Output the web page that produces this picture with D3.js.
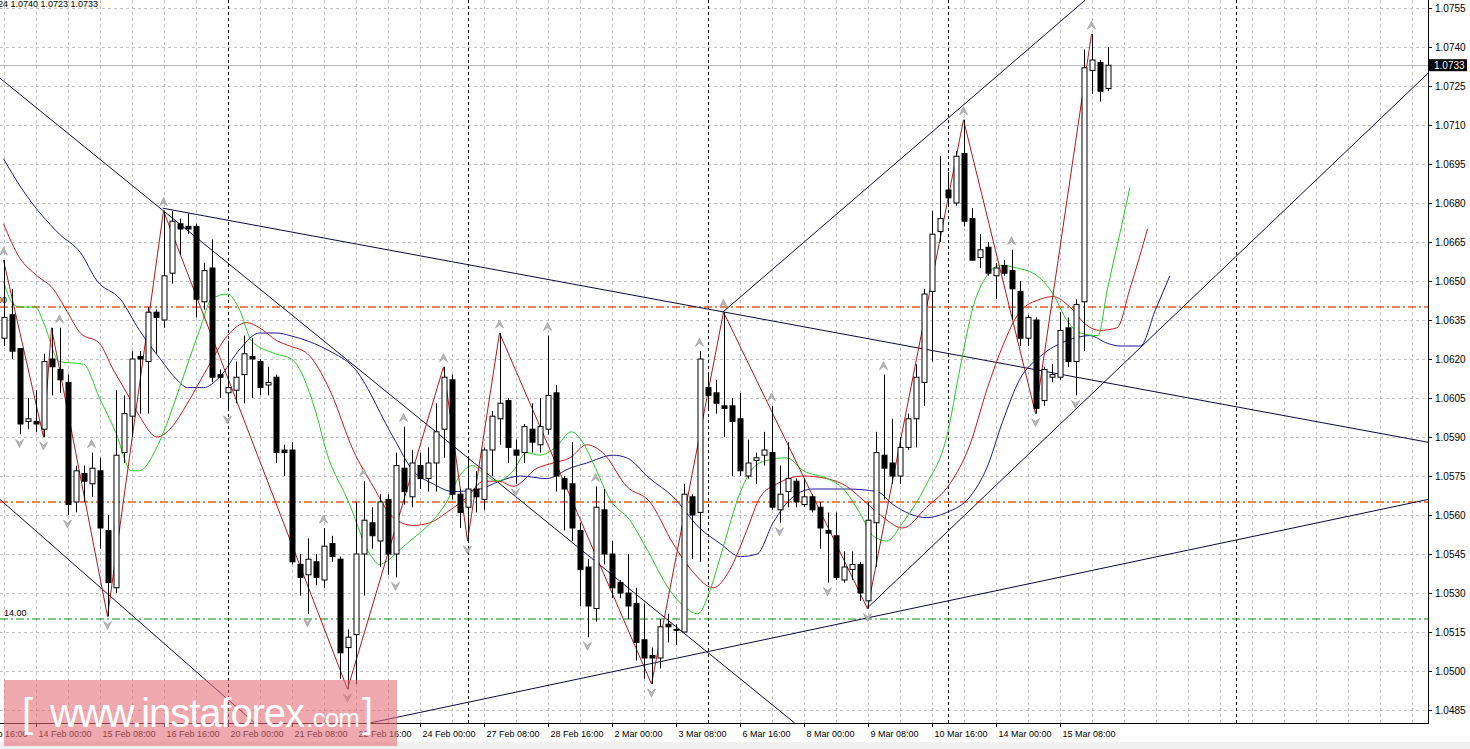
<!DOCTYPE html>
<html><head><meta charset="utf-8">
<script src="https://cdn.jsdelivr.net/npm/d3@7/dist/d3.min.js"></script>
<style>body{margin:0;background:#fff;overflow:hidden}svg{display:block}text{font-family:"Liberation Sans",Arial,sans-serif}</style>
</head><body><svg id="c" width="1470" height="749"></svg>
<script>
// ---- data (EURUSD H4) ----
const open = [1.0628,1.0637,1.0624,1.0596,1.0596,1.0593,1.0620,1.0616,1.0611,1.0565,1.0576,1.0572,1.0577,1.0554,1.0532,1.0584,1.0598,1.0621,1.0619,1.0638,1.0635,1.0653,1.0672,1.0671,1.0671,1.0642,1.0655,1.0614,1.0607,1.0608,1.0614,1.0621,1.0619,1.0610,1.0613,1.0585,1.0585,1.0541,1.0537,1.0542,1.0535,1.0549,1.0543,1.0509,1.0514,1.0545,1.0557,1.0550,1.0566,1.0545,1.0578,1.0567,1.0579,1.0574,1.0580,1.0593,1.0612,1.0568,1.0563,1.0570,1.0566,1.0585,1.0597,1.0604,1.0585,1.0584,1.0593,1.0587,1.0593,1.0607,1.0574,1.0572,1.0554,1.0540,1.0524,1.0562,1.0545,1.0534,1.0530,1.0526,1.0512,1.0506,1.0505,1.0518,1.0516,1.0515,1.0567,1.0561,1.0609,1.0607,1.0602,1.0602,1.0597,1.0575,1.0581,1.0583,1.0584,1.0562,1.0569,1.0573,1.0564,1.0567,1.0563,1.0554,1.0552,1.0535,1.0539,1.0541,1.0527,1.0557,1.0583,1.0580,1.0575,1.0586,1.0597,1.0611,1.0646,1.0669,1.0685,1.0680,1.0699,1.0674,1.0659,1.0663,1.0652,1.0656,1.0654,1.0646,1.0628,1.0635,1.0604,1.0613,1.0613,1.0632,1.0619,1.0642,1.0731,1.0734,1.0724];
const high = [1.0658,1.0647,1.0624,1.0605,1.0608,1.0622,1.0632,1.0632,1.0614,1.0579,1.0579,1.0584,1.0582,1.0560,1.0608,1.0606,1.0623,1.0623,1.0640,1.0639,1.0677,1.0677,1.0674,1.0676,1.0672,1.0657,1.0666,1.0616,1.0627,1.0619,1.0629,1.0628,1.0620,1.0617,1.0614,1.0587,1.0588,1.0545,1.0551,1.0545,1.0555,1.0552,1.0544,1.0516,1.0565,1.0573,1.0563,1.0568,1.0568,1.0584,1.0594,1.0585,1.0584,1.0586,1.0603,1.0617,1.0614,1.0570,1.0582,1.0577,1.0586,1.0600,1.0630,1.0605,1.0589,1.0595,1.0603,1.0605,1.0629,1.0610,1.0575,1.0588,1.0557,1.0543,1.0571,1.0570,1.0550,1.0535,1.0545,1.0532,1.0526,1.0509,1.0520,1.0522,1.0518,1.0572,1.0568,1.0623,1.0614,1.0612,1.0638,1.0605,1.0607,1.0589,1.0584,1.0592,1.0602,1.0579,1.0588,1.0574,1.0574,1.0568,1.0565,1.0561,1.0561,1.0546,1.0546,1.0542,1.0565,1.0592,1.0614,1.0597,1.0590,1.0599,1.0618,1.0647,1.0677,1.0698,1.0692,1.0700,1.0712,1.0678,1.0668,1.0665,1.0657,1.0658,1.0662,1.0650,1.0637,1.0636,1.0617,1.0618,1.0638,1.0636,1.0643,1.0739,1.0745,1.0735,1.0740];
const low = [1.0625,1.0620,1.0591,1.0593,1.0592,1.0590,1.0606,1.0607,1.0560,1.0561,1.0565,1.0567,1.0547,1.0521,1.0530,1.0580,1.0590,1.0599,1.0599,1.0622,1.0632,1.0649,1.0660,1.0668,1.0636,1.0639,1.0611,1.0605,1.0600,1.0603,1.0603,1.0605,1.0606,1.0606,1.0580,1.0575,1.0541,1.0529,1.0522,1.0533,1.0532,1.0542,1.0497,1.0493,1.0495,1.0529,1.0547,1.0540,1.0537,1.0536,1.0564,1.0563,1.0570,1.0569,1.0569,1.0582,1.0566,1.0555,1.0550,1.0561,1.0562,1.0575,1.0587,1.0580,1.0572,1.0580,1.0584,1.0584,1.0591,1.0569,1.0554,1.0550,1.0525,1.0513,1.0519,1.0541,1.0528,1.0528,1.0520,1.0504,1.0497,1.0495,1.0501,1.0511,1.0510,1.0515,1.0543,1.0542,1.0600,1.0599,1.0590,1.0575,1.0575,1.0574,1.0572,1.0579,1.0562,1.0557,1.0563,1.0563,1.0563,1.0561,1.0547,1.0534,1.0535,1.0534,1.0535,1.0527,1.0524,1.0540,1.0566,1.0572,1.0572,1.0585,1.0586,1.0602,1.0619,1.0665,1.0679,1.0679,1.0671,1.0658,1.0655,1.0652,1.0643,1.0652,1.0635,1.0625,1.0625,1.0599,1.0602,1.0611,1.0612,1.0617,1.0606,1.0623,1.0722,1.0719,1.0723];
const close = [1.0636,1.0623,1.0595,1.0597,1.0595,1.0619,1.0617,1.0612,1.0564,1.0577,1.0573,1.0578,1.0555,1.0534,1.0583,1.0599,1.0620,1.0620,1.0638,1.0636,1.0652,1.0673,1.0670,1.0670,1.0643,1.0654,1.0613,1.0613,1.0609,1.0613,1.0622,1.0620,1.0609,1.0611,1.0584,1.0584,1.0542,1.0536,1.0543,1.0536,1.0548,1.0544,1.0507,1.0513,1.0545,1.0558,1.0552,1.0565,1.0545,1.0579,1.0569,1.0580,1.0574,1.0580,1.0592,1.0613,1.0568,1.0561,1.0570,1.0567,1.0585,1.0598,1.0603,1.0586,1.0583,1.0594,1.0588,1.0594,1.0606,1.0575,1.0570,1.0555,1.0539,1.0525,1.0563,1.0545,1.0532,1.0530,1.0525,1.0511,1.0505,1.0505,1.0517,1.0517,1.0516,1.0568,1.0560,1.0620,1.0606,1.0603,1.0601,1.0596,1.0577,1.0580,1.0582,1.0585,1.0563,1.0568,1.0574,1.0565,1.0567,1.0562,1.0555,1.0553,1.0536,1.0540,1.0541,1.0530,1.0558,1.0584,1.0578,1.0575,1.0586,1.0597,1.0613,1.0645,1.0668,1.0674,1.0682,1.0698,1.0673,1.0658,1.0662,1.0653,1.0655,1.0653,1.0647,1.0628,1.0636,1.0601,1.0616,1.0614,1.0631,1.0619,1.0641,1.0732,1.0735,1.0723,1.0733];

const maGreen = [[0,1.0650],[1,1.0642],[2,1.0640],[4,1.0640],[5,1.0634],[7,1.0619],[10,1.0618],[12,1.0605],[14,1.0592],[16,1.0577],[17,1.0577],[19,1.0585],[20.4,1.0595],[22,1.0609],[24.5,1.0631],[26,1.0643],[28,1.0645],[29.5,1.0639],[31,1.0627],[34,1.0622],[36,1.0620],[39,1.0600],[40.4,1.0584],[43,1.0566],[46,1.0544],[47,1.0541],[49,1.0545],[50.4,1.0549],[52,1.0553],[53.7,1.0558],[55.4,1.0565],[57,1.0575],[58.6,1.0579],[60,1.0576],[61.7,1.0573],[63.7,1.0577],[65.4,1.0584],[67,1.0583],[69,1.0586],[71,1.0592],[72.4,1.0588],[74,1.0578],[75.8,1.0566],[78.3,1.0558],[80.4,1.0547],[83.3,1.0531],[85,1.0525],[86.8,1.0522],[88.3,1.0531],[89.9,1.0547],[92,1.0568],[93.7,1.0578],[95.4,1.0581],[97.9,1.0582],[100,1.0577],[103,1.0574],[105,1.0570],[107,1.0561],[108.7,1.0552],[110.4,1.0550],[112.4,1.0557],[115.4,1.0572],[117.9,1.0590],[119.6,1.0617],[121.2,1.0640],[122.9,1.0652],[124.6,1.0656],[126.7,1.0655],[129.2,1.0652],[131.2,1.0645],[132.9,1.0635],[134.6,1.0630],[136.8,1.0629],[138,1.0647],[139.6,1.0669],[140.8,1.0686]];
const maRed = [[0,1.0672],[2,1.0659],[4.2,1.0652],[6.2,1.0647],[8,1.0638],[9.6,1.0630],[12,1.0626],[13.7,1.0616],[15.4,1.0607],[17,1.0598],[19.2,1.0590],[20.8,1.0593],[23,1.0603],[25.4,1.0616],[28,1.0629],[30.4,1.0634],[32,1.0632],[34.2,1.0627],[35.8,1.0625],[38,1.0622],[40.8,1.0608],[43.7,1.0585],[46.2,1.0571],[48.7,1.0559],[51.2,1.0556],[53.3,1.0557],[55.4,1.0561],[58,1.0567],[60,1.0573],[62,1.0573],[63.7,1.0571],[66.7,1.0578],[68.7,1.0580],[70.8,1.0582],[72.9,1.0587],[74.9,1.0584],[77.9,1.0571],[80.8,1.0565],[83.7,1.0549],[86.2,1.0538],[88.7,1.0532],[90.8,1.0539],[92.9,1.0554],[94.6,1.0567],[96.7,1.0572],[100,1.0575],[102.9,1.0574],[105.4,1.0571],[107,1.0567],[109.6,1.0560],[112.4,1.0555],[115.4,1.0563],[118.3,1.0572],[120.8,1.0587],[122.9,1.0608],[124.9,1.0625],[127,1.0638],[129.6,1.0643],[131.2,1.0644],[133.3,1.0640],[135.4,1.0633],[137,1.0631],[139.2,1.0632],[140.8,1.0647],[143,1.0670]];
const maBlue = [[0,1.0697],[2.4,1.0685],[7,1.0668],[9.6,1.0661],[11.7,1.0650],[14.6,1.0643],[17,1.0631],[19.6,1.0620],[21.7,1.0612],[23,1.0609],[25,1.0609],[27,1.0613],[29.6,1.0624],[32,1.0630],[34.2,1.0630],[35.8,1.0629],[40.8,1.0623],[43.7,1.0617],[48.7,1.0590],[51.2,1.0577],[53.7,1.0572],[56.2,1.0569],[59.6,1.0570],[62,1.0573],[64.6,1.0575],[67.9,1.0574],[70.8,1.0578],[72.9,1.0580],[76.2,1.0583],[77.9,1.0582],[80.8,1.0574],[83.7,1.0567],[87,1.0555],[89.6,1.0549],[92.1,1.0544],[94.2,1.0545],[96.2,1.0557],[98.7,1.0567],[101.2,1.0570],[105.4,1.0570],[109.2,1.0569],[111.2,1.0564],[115.4,1.0559],[117.9,1.0561],[120.8,1.0567],[122.9,1.0578],[124.9,1.0596],[127,1.0612],[129.6,1.0621],[132.9,1.0627],[135.8,1.0629],[138,1.0626],[139.6,1.0625],[142.1,1.0625],[144,1.0639],[145.8,1.0652]];
const zigzag = [[0,1.0658],[5,1.0590],[6,1.0632],[13,1.0521],[20,1.0677],[43,1.0493],[55,1.0617],[58,1.0550],[62,1.0630],[81,1.0495],[90,1.0638],[108,1.0524],[120,1.0712],[129,1.0599],[136,1.0745]];
const fractalUp = [0,7,11,20,40,45,50,55,62,68,74,87,90,96,110,120,126,136];
const fractalDown = [2,5,8,13,28,38,43,49,58,64,73,81,97,103,108,129,134];
const trendlines = [[[-0.44,1.0728],[98.9,1.0480]],[[19.9,1.0678],[183.3,1.0585]],[[-0.44,1.0566],[31.4,1.0480]],[[45.8,1.0480],[178.1,1.0566]],[[89.9,1.0638],[135.2,1.0758]],[[107.9,1.0524],[178.1,1.0730]]];
const levelsOrange = [1.0640,1.0565];
const levelGreen = 1.0520;
const lastPrice = 1.0733;
const priceTicks = [1.0755,1.0740,1.0725,1.0710,1.0695,1.0680,1.0665,1.0650,1.0635,1.0620,1.0605,1.0590,1.0575,1.0560,1.0545,1.0530,1.0515,1.0500,1.0485];
const timeLabels = ["13 Feb 16:00","14 Feb 00:00","15 Feb 08:00","16 Feb 16:00","20 Feb 00:00","21 Feb 08:00","22 Feb 16:00","24 Feb 00:00","27 Feb 08:00","28 Feb 16:00","2 Mar 00:00","3 Mar 08:00","6 Mar 16:00","8 Mar 00:00","9 Mar 08:00","10 Mar 16:00","14 Mar 00:00","15 Mar 08:00"];
const timeLabelIdx = [-4,4,12,20,28,36,44,52,60,68,76,84,92,100,108,116,124,132];
const separators = [28,58,88,118,154];

// ---- drawing ----
const W=1428, H=723;
const svg=d3.select("#c");
const x=d3.scaleLinear().domain([0,1]).range([3.5,11.5]);
const y=d3.scaleLinear().domain([1.0485,1.0755]).range([710,8]);
svg.append("defs").append("clipPath").attr("id","clip").append("rect").attr("width",W).attr("height",H);
const g=svg.append("g").attr("clip-path","url(#clip)");
const px=v=>Math.round(v)+0.5;

// grid
const gridIdx=d3.range(0,180,4);
g.append("g").selectAll("line").data(gridIdx).join("line").attr("x1",d=>px(x(d))).attr("x2",d=>px(x(d))).attr("y1",0).attr("y2",H).attr("stroke","#c0c0c0").attr("stroke-dasharray","3,3");
g.append("g").selectAll("line").data(priceTicks).join("line").attr("x1",0).attr("x2",W).attr("y1",d=>px(y(d))).attr("y2",d=>px(y(d))).attr("stroke","#c0c0c0").attr("stroke-dasharray","3,3");
g.append("g").selectAll("line").data(separators).join("line").attr("x1",d=>px(x(d))).attr("x2",d=>px(x(d))).attr("y1",0).attr("y2",H).attr("stroke","#000").attr("stroke-dasharray","3,3");

// levels
g.append("line").attr("x1",0).attr("x2",W).attr("y1",px(y(lastPrice))).attr("y2",px(y(lastPrice))).attr("stroke","#b8b8b8");
g.append("g").selectAll("line").data(levelsOrange).join("line").attr("x1",0).attr("x2",W).attr("y1",d=>Math.round(y(d))).attr("y2",d=>Math.round(y(d))).attr("stroke","#e85a26").attr("stroke-width",1.3).attr("stroke-dasharray","8,3,2,3");
g.append("line").attr("x1",0).attr("x2",W).attr("y1",Math.round(y(levelGreen))).attr("y2",Math.round(y(levelGreen))).attr("stroke","#0a8a0a").attr("stroke-width",1.2).attr("stroke-dasharray","8,3,2,3");
g.append("text").attr("x",4).attr("y",y(levelGreen)-3).attr("font-size",9).text("14.00");
g.append("text").attr("x",-3).attr("y",y(levelsOrange[0])-4).attr("font-size",9).text("00");

// trendlines
g.append("g").selectAll("line").data(trendlines).join("line").attr("x1",d=>x(d[0][0])).attr("y1",d=>y(d[0][1])).attr("x2",d=>x(d[1][0])).attr("y2",d=>y(d[1][1])).attr("stroke","#0a0a40").attr("stroke-width",1);

// MAs
const ln=d3.line().x(d=>x(d[0])).y(d=>y(d[1])).curve(d3.curveMonotoneX);
g.append("path").attr("d",ln(maBlue)).attr("fill","none").attr("stroke","#1a1a9a");
g.append("path").attr("d",ln(maRed)).attr("fill","none").attr("stroke","#c81818");
g.append("path").attr("d",ln(maGreen)).attr("fill","none").attr("stroke","#22cc22");

// zigzag
g.append("path").attr("d",d3.line().x(d=>x(d[0])).y(d=>y(d[1]))(zigzag)).attr("fill","none").attr("stroke","#b01818");

// candles
const idx=d3.range(open.length);
g.append("g").selectAll("line").data(idx).join("line").attr("x1",i=>px(x(i))).attr("x2",i=>px(x(i))).attr("y1",i=>y(high[i])).attr("y2",i=>y(low[i])).attr("stroke","#000");
g.append("g").selectAll("rect").data(idx).join("rect")
 .attr("x",i=>Math.round(x(i))-2).attr("width",5)
 .attr("y",i=>y(Math.max(open[i],close[i]))).attr("height",i=>Math.max(1,Math.abs(y(open[i])-y(close[i]))))
 .attr("fill",i=>close[i]>=open[i]?"#fff":"#000").attr("stroke","#000").attr("stroke-width",1);

// fractal arrows
const arrowUp="M0,0 L-4,8 L0,5 L4,8 Z", arrowDn="M0,0 L-4,-8 L0,-5 L4,-8 Z";
g.append("g").selectAll("path").data(fractalUp).join("path").attr("d",arrowUp).attr("transform",i=>`translate(${x(i)},${y(high[i])-13})`).attr("fill","#b8b8b8").attr("stroke","#909090").attr("stroke-width",0.6);
g.append("g").selectAll("path").data(fractalDown).join("path").attr("d",arrowDn).attr("transform",i=>`translate(${x(i)},${y(low[i])+13})`).attr("fill","#b8b8b8").attr("stroke","#909090").attr("stroke-width",0.6);

// axes frame
svg.append("line").attr("x1",W+0.5).attr("x2",W+0.5).attr("y1",0).attr("y2",H).attr("stroke","#000");
svg.append("line").attr("x1",0).attr("x2",W+1).attr("y1",H+0.5).attr("y2",H+0.5).attr("stroke","#000");
const ya=svg.append("g").selectAll("g").data(priceTicks).join("g").attr("transform",d=>`translate(${W},${px(y(d))})`);
ya.append("line").attr("x2",4).attr("stroke","#000");
ya.append("text").attr("x",7).attr("y",3.5).attr("font-size",10).text(d=>d.toFixed(4));
svg.append("rect").attr("x",W+1).attr("y",y(lastPrice)-6).attr("width",38).attr("height",12).attr("fill","#000");
svg.append("text").attr("x",W+6).attr("y",y(lastPrice)+3.5).attr("font-size",10).attr("fill","#fff").text(lastPrice.toFixed(4));
const xa=svg.append("g").selectAll("g").data(timeLabelIdx).join("g").attr("transform",d=>`translate(${px(x(d))},${H})`);
xa.append("line").attr("y2",4).attr("stroke","#000");
xa.append("text").attr("x",2).attr("y",14).attr("font-size",9).text((d,i)=>timeLabels[i]);
svg.append("rect").attr("x",0).attr("y",742).attr("width",1470).attr("height",7).attr("fill","#f0f0f0");

// header
svg.append("text").attr("x",-2).attr("y",7).attr("font-size",9).text("24 1.0740 1.0723 1.0733");

// watermark
svg.append("rect").attr("x",4).attr("y",680).attr("width",393).attr("height",66).attr("fill","rgba(228,110,118,0.6)");
const wm=svg.append("text").attr("y",727).attr("fill","#fff").attr("font-family","'Open Sans','Noto Sans',sans-serif");
wm.append("tspan").attr("x",22).attr("font-size",40).attr("font-weight",300).text("[");
wm.append("tspan").attr("x",50).attr("font-size",40).attr("textLength",255).text("www.instaforex");
wm.append("tspan").attr("x",306).attr("font-size",26).attr("textLength",54).text(".com");
wm.append("tspan").attr("x",362).attr("font-size",40).attr("font-weight",300).text("]");
</script></body></html>
